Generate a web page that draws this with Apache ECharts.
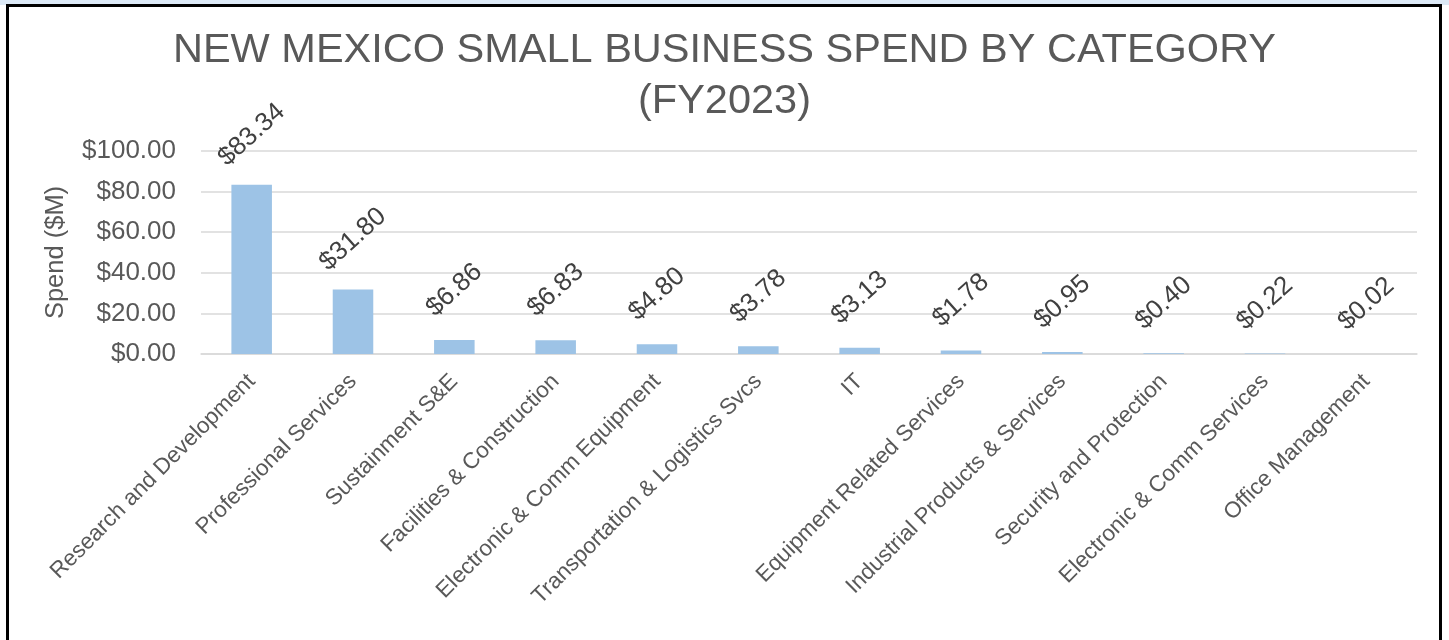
<!DOCTYPE html>
<html><head><meta charset="utf-8">
<script src="https://cdn.jsdelivr.net/npm/echarts@6/dist/echarts.min.js"></script>
<style>
html,body{margin:0;padding:0;background:#fff;width:1449px;height:640px;overflow:hidden;}
#strip{position:absolute;left:0;top:0;width:1449px;height:5px;background:#dce9f6;}
#frame{position:absolute;left:6px;top:4px;width:1436px;height:650px;border:3px solid #000;box-sizing:border-box;}
#chart{position:absolute;left:0;top:0;width:1449px;height:640px;}
</style></head>
<body>
<div id="strip"></div>
<div id="frame"></div>
<div id="chart"></div>
<script>
const categories = ["Research and Development","Professional Services","Sustainment S&E","Facilities & Construction","Electronic & Comm Equipment","Transportation & Logistics Svcs","IT","Equipment Related Services","Industrial Products & Services","Security and Protection","Electronic & Comm Services","Office Management"];
const spend = [83.34,31.80,6.86,6.83,4.80,3.78,3.13,1.78,0.95,0.40,0.22,0.02];
const yTicks = [0,20,40,60,80,100];

const chart = echarts.init(document.getElementById('chart'), null, {renderer:'canvas'});
const font = 'Liberation Sans, Arial, sans-serif';
chart.setOption({
  animation:false,
  title:{
    text:'NEW MEXICO SMALL BUSINESS SPEND BY CATEGORY\n(FY2023)',
    left:'center', top:20,
    textStyle:{fontFamily:font,fontSize:41.5,fontWeight:'normal',color:'#595959',lineHeight:51}
  },
  grid:{left:201,right:32,top:151,bottom:286,containLabel:false},
  xAxis:{
    type:'category', data:categories,
    axisLine:{show:true,lineStyle:{color:'#d9d9d9',width:1.5}},
    axisTick:{show:false},
    axisLabel:{interval:0,rotate:45,fontFamily:font,fontSize:22.5,color:'#595959',margin:24}
  },
  yAxis:{
    type:'value', min:yTicks[0], max:yTicks[yTicks.length-1], interval:20,
    name:'Spend ($M)', nameLocation:'middle', nameGap:132, nameRotate:90,
    nameTextStyle:{fontFamily:font,fontSize:25.5,color:'#595959'},
    axisLine:{show:false}, axisTick:{show:false},
    splitLine:{lineStyle:{color:'#d9d9d9',width:1.5}},
    axisLabel:{fontFamily:font,fontSize:26,color:'#595959',margin:25,
      formatter:v=>'$'+v.toFixed(2)}
  },
  series:[{
    type:'bar', data:spend, barWidth:'40%',
    itemStyle:{color:'#9dc3e6'},
    label:{show:true,position:'top',rotate:42,distance:50,align:'center',verticalAlign:'middle',
      fontFamily:font,fontSize:26,color:'#404040',formatter:p=>'$'+p.value.toFixed(2)}
  }]
});
</script>
</body></html>
